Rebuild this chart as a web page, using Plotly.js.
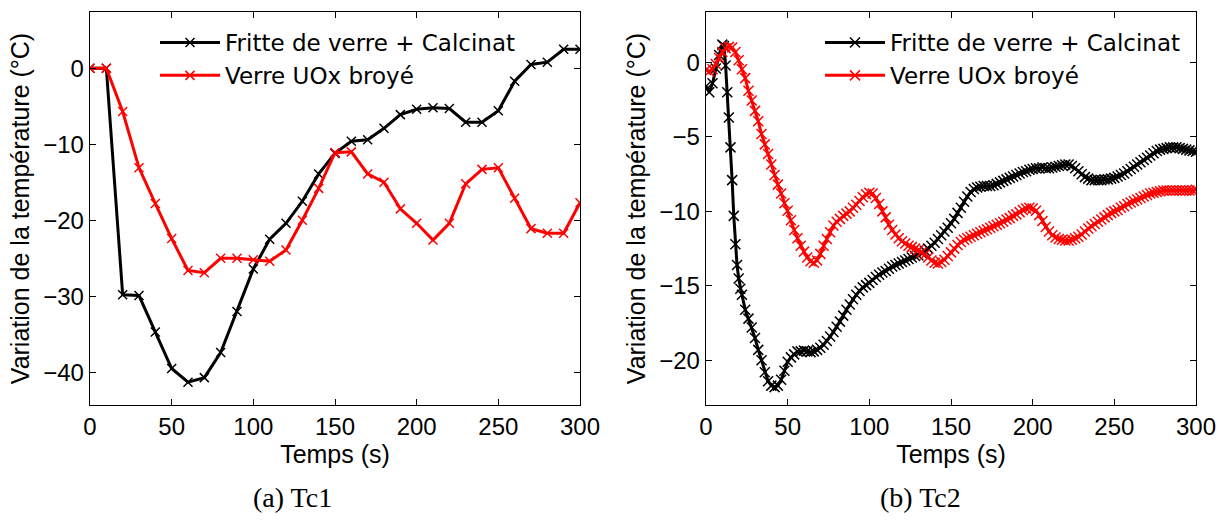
<!DOCTYPE html>
<html>
<head>
<meta charset="utf-8">
<script src="https://cdn.plot.ly/plotly-3.0.1.min.js"></script>
<style>html,body{margin:0;padding:0;background:#fff;}#chart{width:1222px;height:522px;}</style>
</head>
<body>
<div id="chart"></div>
<script>
// ---- Data: (a) Tc1 ----
var tTc1 = [0,10,20,30,40,50,60,70,80,90,100,110,120,130,140,150,160,170,180,190,200,210,220,230,240,250,260,270,280,290,300];
var fritteTc1 = [0,0,-29.8,-29.9,-34.7,-39.5,-41.3,-40.7,-37.4,-32.0,-26.4,-22.5,-20.4,-17.5,-13.9,-11.2,-9.6,-9.4,-7.9,-6.1,-5.4,-5.2,-5.3,-7.1,-7.1,-5.6,-1.7,0.5,0.8,2.5,2.5];
var verreTc1 = [0,0,-5.7,-13.1,-17.8,-22.4,-26.6,-26.9,-25.0,-25.0,-25.2,-25.4,-23.9,-20.0,-15.8,-11.1,-11.0,-13.9,-15.0,-18.5,-20.4,-22.6,-20.4,-15.2,-13.3,-13.1,-17.1,-21.1,-21.7,-21.7,-17.7];

// ---- Data: (b) Tc2 ----
var tFritteTc2 = [0,2,4,6,8,10,11,12,13,14,15,16,17,18,19,20,21,22,24,26,28,30,32,34,36,38,40,42,44,46,48,50,52,54,56,58,60,62,64,66,68,70,72,74,76,78,80,82,84,86,88,90,92,94,96,98,100,102,104,106,108,110,112,114,116,118,120,122,124,126,128,130,132,134,136,138,140,142,144,146,148,150,152,154,156,158,160,162,164,166,168,170,172,174,176,178,180,182,184,186,188,190,192,194,196,198,200,202,204,206,208,210,212,214,216,218,220,222,224,226,228,230,232,234,236,238,240,242,244,246,248,250,252,254,256,258,260,262,264,266,268,270,272,274,276,278,280,282,284,286,288,290,292,294,296,298,300];
var fritteTc2 = [-1.6,-2.0,-1.4,-0.4,0.5,1.2,1.1,-0.2,-2.0,-3.7,-5.7,-7.9,-10.3,-12.2,-13.6,-14.5,-15.2,-15.6,-16.6,-17.2,-17.8,-18.5,-19.3,-20.0,-20.8,-21.4,-21.7,-21.8,-21.7,-21.3,-20.7,-20.1,-19.8,-19.6,-19.4,-19.4,-19.35,-19.4,-19.45,-19.4,-19.3,-19.15,-18.95,-18.7,-18.4,-18.1,-17.75,-17.4,-17.0,-16.6,-16.25,-15.9,-15.6,-15.35,-15.1,-14.95,-14.8,-14.6,-14.4,-14.25,-14.1,-14.0,-13.85,-13.7,-13.6,-13.5,-13.4,-13.3,-13.2,-13.1,-13.0,-12.95,-12.8,-12.65,-12.5,-12.3,-12.1,-11.85,-11.6,-11.35,-11.1,-10.8,-10.5,-10.1,-9.75,-9.35,-9.0,-8.7,-8.5,-8.4,-8.35,-8.3,-8.3,-8.3,-8.25,-8.15,-8.05,-7.95,-7.85,-7.75,-7.65,-7.55,-7.45,-7.35,-7.3,-7.2,-7.15,-7.1,-7.1,-7.05,-7.1,-7.1,-7.05,-7.0,-6.95,-6.9,-6.85,-6.85,-6.95,-7.1,-7.3,-7.5,-7.7,-7.8,-7.9,-7.9,-7.9,-7.9,-7.85,-7.85,-7.8,-7.75,-7.65,-7.55,-7.45,-7.3,-7.15,-7.0,-6.85,-6.7,-6.55,-6.4,-6.25,-6.1,-5.95,-5.85,-5.8,-5.75,-5.7,-5.7,-5.7,-5.75,-5.8,-5.85,-5.9,-5.95,-6.0];
var tVerreTc2 = [0,2,4,6,8,10,12,14,16,18,20,22,24,26,28,30,32,34,36,38,40,42,44,46,48,50,52,54,56,58,60,62,64,66,68,70,72,74,76,78,80,82,84,86,88,90,92,94,96,98,100,102,104,106,108,110,112,114,116,118,120,122,124,126,128,130,132,134,136,138,140,142,144,146,148,150,152,154,156,158,160,162,164,166,168,170,172,174,176,178,180,182,184,186,188,190,192,194,196,198,200,202,204,206,208,210,212,214,216,218,220,222,224,226,228,230,232,234,236,238,240,242,244,246,248,250,252,254,256,258,260,262,264,266,268,270,272,274,276,278,280,282,284,286,288,290,292,294,296,298,300];
var verreTc2 = [-0.5,-0.6,-0.45,-0.1,0.3,0.7,0.95,1.05,1.0,0.7,0.15,-0.45,-1.05,-1.9,-2.55,-3.25,-3.95,-4.8,-5.5,-6.15,-6.85,-7.55,-8.2,-8.8,-9.45,-9.95,-10.6,-11.25,-11.8,-12.3,-12.7,-13.1,-13.35,-13.45,-13.3,-12.85,-12.3,-11.85,-11.4,-10.95,-10.7,-10.5,-10.3,-10.15,-10.0,-9.75,-9.55,-9.3,-9.05,-8.85,-8.75,-8.8,-9.1,-9.5,-10.0,-10.4,-10.9,-11.25,-11.55,-11.8,-12.0,-12.15,-12.3,-12.4,-12.5,-12.6,-12.75,-12.9,-13.1,-13.3,-13.45,-13.5,-13.4,-13.25,-13.0,-12.75,-12.5,-12.25,-12.05,-11.9,-11.8,-11.7,-11.6,-11.5,-11.4,-11.3,-11.2,-11.1,-11.0,-10.9,-10.8,-10.7,-10.55,-10.45,-10.3,-10.2,-10.05,-9.9,-9.8,-9.75,-9.8,-9.95,-10.25,-10.65,-11.05,-11.35,-11.6,-11.75,-11.85,-11.9,-11.95,-11.95,-11.9,-11.8,-11.7,-11.55,-11.35,-11.15,-11.0,-10.85,-10.7,-10.55,-10.4,-10.25,-10.1,-10.0,-9.9,-9.75,-9.65,-9.5,-9.4,-9.3,-9.2,-9.1,-9.0,-8.9,-8.8,-8.75,-8.7,-8.65,-8.6,-8.6,-8.6,-8.6,-8.6,-8.6,-8.6,-8.6,-8.6,-8.6,-8.55];

var seriesNames = ['Fritte de verre + Calcinat', 'Verre UOx broyé'];
var xTicks = [0,50,100,150,200,250,300];
var yTicksTc1 = [0,-10,-20,-30,-40];
var yTicksTc2 = [0,-5,-10,-15,-20];
var captions = ['(a) Tc1', '(b) Tc2'];

var BLACK = '#000000', RED = '#ff0000';
function mk(x, y, name, color, xa, ya, leg, msize) {
  return {
    x: x, y: y, name: name, type: 'scatter', mode: 'lines+markers',
    xaxis: xa, yaxis: ya, legend: leg,
    line: {color: color, width: 3},
    marker: {symbol: 'x-thin-open', size: msize, color: color, line: {color: color, width: 1.5}}
  };
}
var traces = [
  mk(tTc1, fritteTc1, seriesNames[0], BLACK, 'x', 'y', 'legend', 9),
  mk(tTc1, verreTc1, seriesNames[1], RED, 'x', 'y', 'legend', 9),
  mk(tFritteTc2, fritteTc2, seriesNames[0], BLACK, 'x2', 'y2', 'legend2', 10),
  mk(tVerreTc2, verreTc2, seriesNames[1], RED, 'x2', 'y2', 'legend2', 10)
];

var W = 1222, H = 522;
var tickFont = {family: 'Liberation Sans, Arial, sans-serif', size: 24, color: '#000'};
var titleFont = {family: 'Liberation Sans, Arial, sans-serif', size: 25, color: '#000'};
function xAxis(domain, anchor) {
  return {
    domain: domain, anchor: anchor, range: [0, 300], tickvals: xTicks,
    ticks: 'inside', ticklen: 6, tickwidth: 1, tickcolor: '#000',
    showline: true, linecolor: '#000', linewidth: 1.3, mirror: 'ticks',
    showgrid: false, zeroline: false, automargin: false,
    tickfont: tickFont,
    title: {text: 'Temps (s)', font: titleFont, standoff: 4}
  };
}
function yAxis(domain, anchor, range, ticks) {
  return {
    domain: domain, anchor: anchor, range: range, tickvals: ticks,
    ticks: 'inside', ticklen: 6, tickwidth: 1, tickcolor: '#000',
    showline: true, linecolor: '#000', linewidth: 1.3, mirror: 'ticks',
    showgrid: false, zeroline: false, automargin: false,
    tickfont: tickFont,
    title: {text: 'Variation de la température (°C)', font: titleFont, standoff: 6}
  };
}
var yDom = [(H - 405) / H, (H - 12) / H];
var legendFont = {family: 'DejaVu Sans, sans-serif', size: 23, color: '#000'};
var layout = {
  width: W, height: H,
  margin: {l: 0, r: 0, t: 0, b: 0},
  paper_bgcolor: '#fff', plot_bgcolor: '#fff',
  showlegend: true,
  xaxis: xAxis([90 / W, 580 / W], 'y'),
  yaxis: yAxis(yDom, 'x', [-44.3, 7.4], yTicksTc1),
  xaxis2: xAxis([706 / W, 1196 / W], 'y2'),
  yaxis2: yAxis(yDom, 'x2', [-23.0, 3.39], yTicksTc2),
  legend: {x: 155 / W, y: (H - 21) / H, xanchor: 'left', yanchor: 'top', bgcolor: 'rgba(0,0,0,0)', borderwidth: 0, font: legendFont, itemwidth: 60},
  legend2: {x: 820 / W, y: (H - 21) / H, xanchor: 'left', yanchor: 'top', bgcolor: 'rgba(0,0,0,0)', borderwidth: 0, font: legendFont, itemwidth: 60},
  annotations: [
    {text: captions[0], x: 292 / W, y: 25 / H, xref: 'paper', yref: 'paper', showarrow: false, xanchor: 'center', yanchor: 'middle', font: {family: 'Liberation Serif, Times New Roman, serif', size: 28, color: '#000'}},
    {text: captions[1], x: 920 / W, y: 25 / H, xref: 'paper', yref: 'paper', showarrow: false, xanchor: 'center', yanchor: 'middle', font: {family: 'Liberation Serif, Times New Roman, serif', size: 28, color: '#000'}}
  ]
};
Plotly.newPlot('chart', traces, layout, {staticPlot: true, displayModeBar: false});
</script>
</body>
</html>
